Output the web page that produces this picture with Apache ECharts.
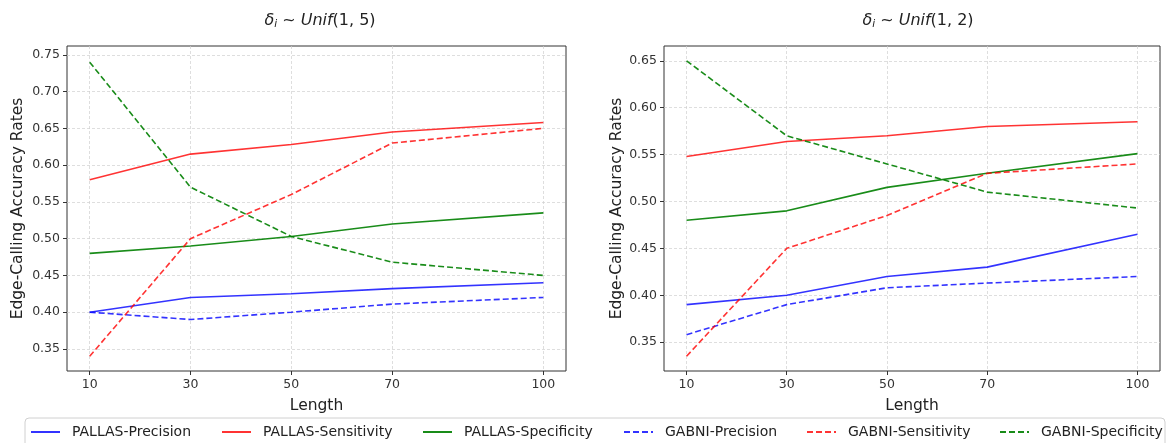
<!DOCTYPE html>
<html>
<head>
<meta charset="utf-8">
<script src="https://cdn.jsdelivr.net/npm/echarts@6/dist/echarts.min.js"></script>
<style>
  html, body { margin: 0; padding: 0; background: #fff; }
  #chart { width: 1168px; height: 443px; }
</style>
</head>
<body>
<div id="chart"></div>
<script>
// x positions (sequence length)
const lengths = [10, 30, 50, 70, 100]
const xTicks = [10, 30, 50, 70, 100]

// left panel: delta_i ~ Unif(1,5)
const leftPallasPrecision = [0.400, 0.420, 0.425, 0.432, 0.440]
const leftPallasSensitivity = [0.580, 0.615, 0.628, 0.645, 0.658]
const leftPallasSpecificity = [0.480, 0.490, 0.503, 0.520, 0.535]
const leftGabniPrecision = [0.400, 0.390, 0.400, 0.411, 0.420]
const leftGabniSensitivity = [0.340, 0.500, 0.560, 0.630, 0.650]
const leftGabniSpecificity = [0.740, 0.570, 0.503, 0.468, 0.450]
const leftYTicks = [0.35, 0.40, 0.45, 0.50, 0.55, 0.60, 0.65, 0.70, 0.75]

// right panel: delta_i ~ Unif(1,2)
const rightPallasPrecision = [0.390, 0.400, 0.420, 0.430, 0.465]
const rightPallasSensitivity = [0.548, 0.564, 0.570, 0.580, 0.585]
const rightPallasSpecificity = [0.480, 0.490, 0.515, 0.530, 0.551]
const rightGabniPrecision = [0.358, 0.390, 0.408, 0.413, 0.420]
const rightGabniSensitivity = [0.335, 0.450, 0.485, 0.530, 0.540]
const rightGabniSpecificity = [0.650, 0.570, 0.540, 0.510, 0.493]
const rightYTicks = [0.35, 0.40, 0.45, 0.50, 0.55, 0.60, 0.65]

const seriesNames = ['PALLAS-Precision', 'PALLAS-Sensitivity', 'PALLAS-Specificity',
  'GABNI-Precision', 'GABNI-Sensitivity', 'GABNI-Specificity']
const colors = ['rgba(0,0,255,0.8)', 'rgba(255,0,0,0.8)', 'rgba(0,128,0,0.9)']
const legendLeft = [30, 221, 422, 623, 806, 999]

const font = 'DejaVu Sans'

function zip (ys) {
  return lengths.map((x, i) => [x, ys[i]])
}

function makeSeries (idx, arrays) {
  return arrays.map((ys, i) => ({
    name: seriesNames[i],
    type: 'line',
    xAxisIndex: idx,
    yAxisIndex: idx,
    symbol: 'none',
    data: zip(ys),
    color: colors[i % 3],
    lineStyle: {
      width: 1.6,
      color: colors[i % 3],
      type: i < 3 ? 'solid' : [6, 3]
    }
  }))
}

function xAxis (idx) {
  return {
    type: 'value',
    gridIndex: idx,
    min: 5.5,
    max: 104.5,
    name: 'Length',
    nameLocation: 'middle',
    nameGap: 27,
    nameTextStyle: { fontFamily: font, fontSize: 15.5, color: '#222' },
    axisLine: { show: false },
    axisTick: { show: true, customValues: xTicks, length: 4, lineStyle: { color: '#333' } },
    axisLabel: { customValues: xTicks, fontFamily: font, fontSize: 12.5, color: '#333', margin: 7 },
    splitLine: { show: true, lineStyle: { color: '#d0d0d0', type: [3, 2], width: 0.7 } }
  }
}

function yAxis (idx, min, max, ticks, gap) {
  return {
    type: 'value',
    gridIndex: idx,
    min: min,
    max: max,
    name: 'Edge-Calling Accuracy Rates',
    nameLocation: 'middle',
    nameGap: gap,
    nameTextStyle: { fontFamily: font, fontSize: 15.5, color: '#222' },
    axisLine: { show: false },
    axisTick: { show: true, customValues: ticks, length: 4, lineStyle: { color: '#333' } },
    axisLabel: {
      customValues: ticks,
      fontFamily: font,
      fontSize: 12.5,
      color: '#333',
      margin: 7,
      formatter: v => v.toFixed(2)
    },
    splitLine: { show: true, lineStyle: { color: '#d0d0d0', type: [3, 2], width: 0.7 } }
  }
}

function titleRich (a, b) {
  return {
    text: '{it|δ}{sub|i}{n| ~ }{it|Unif}{n|(' + a + ', ' + b + ')}',
    textStyle: {
      fontWeight: 'normal',
      rich: {
        it: { fontFamily: font, fontStyle: 'italic', fontWeight: 'normal', fontSize: 16, color: '#222' },
        sub: { fontFamily: font, fontStyle: 'italic', fontWeight: 'normal', fontSize: 10.5, color: '#222', padding: [8, 0, 0, 0] },
        n: { fontFamily: font, fontWeight: 'normal', fontSize: 16, color: '#222' }
      }
    }
  }
}

// one legend per entry so the columns sit where the reference has them
const legends = seriesNames.map((name, i) => ({
  data: [name],
  left: legendLeft[i],
  top: 425,
  padding: 0,
  itemWidth: 29,
  itemHeight: 10,
  itemStyle: { opacity: 0 },
  textStyle: { fontFamily: font, fontSize: 14, color: '#222', padding: [0, 0, 0, 7] }
}))

const chart = echarts.init(document.getElementById('chart'))
chart.setOption({
  animation: false,
  backgroundColor: '#fff',
  title: [
    Object.assign({ left: 315, top: 6, textAlign: 'center' }, titleRich(1, 5)),
    Object.assign({ left: 913, top: 6, textAlign: 'center' }, titleRich(1, 2))
  ],
  graphic: [{
    type: 'rect',
    shape: { x: 25, y: 418, width: 1140, height: 32, r: 4 },
    style: { fill: 'none', stroke: '#d0d0d0', lineWidth: 1 },
    silent: true
  }],
  legend: legends,
  grid: [
    { left: 67, right: 602, top: 46, bottom: 72, show: true, borderColor: '#333', borderWidth: 1 },
    { left: 664, right: 8, top: 46, bottom: 72, show: true, borderColor: '#333', borderWidth: 1 }
  ],
  xAxis: [xAxis(0), xAxis(1)],
  yAxis: [
    yAxis(0, 0.32, 0.762, leftYTicks, 41),
    yAxis(1, 0.31925, 0.66575, rightYTicks, 39)
  ],
  series: makeSeries(0, [leftPallasPrecision, leftPallasSensitivity, leftPallasSpecificity,
    leftGabniPrecision, leftGabniSensitivity, leftGabniSpecificity])
    .concat(makeSeries(1, [rightPallasPrecision, rightPallasSensitivity, rightPallasSpecificity,
      rightGabniPrecision, rightGabniSensitivity, rightGabniSpecificity]))
})
</script>
</body>
</html>
